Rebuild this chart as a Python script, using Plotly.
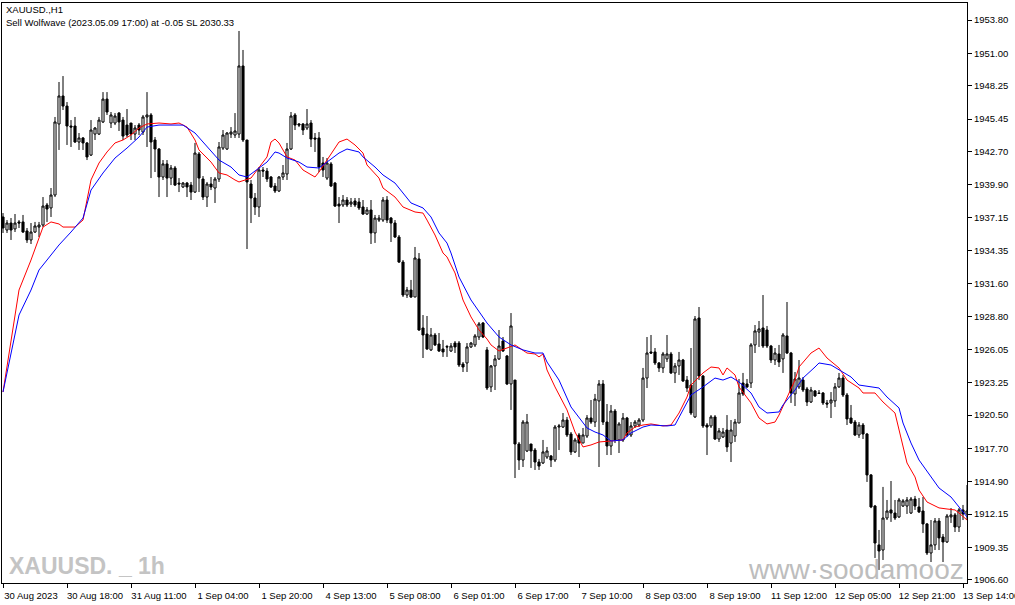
import plotly.graph_objects as go

# ---------------- data ----------------
bar_index = list(range(242))

open_ = [1937.20,1936.10,1936.69,1936.19,1936.78,1936.78,1936.02,1935.26,1935.93,1936.35,
1936.52,1938.21,1937.96,1939.05,1945.04,1947.40,1946.55,1944.87,1944.87,1943.52,
1943.86,1943.44,1942.42,1944.19,1944.19,1945.21,1947.14,1945.12,1945.12,1945.96,
1945.37,1944.95,1945.12,1944.19,1944.95,1944.36,1945.63,1945.80,1943.69,1942.93,
1940.57,1941.67,1940.48,1941.33,1940.06,1939.73,1940.06,1939.89,1939.30,1942.51,
1940.40,1938.88,1939.98,1939.64,1940.40,1943.01,1942.93,1944.19,1944.11,1944.19,
1949.93,1943.69,1939.98,1938.80,1938.04,1941.16,1941.07,1940.57,1939.81,1939.39,
1940.57,1940.82,1942.93,1945.80,1945.04,1945.04,1944.70,1945.12,1943.86,1943.86,
1941.75,1940.48,1941.67,1940.06,1938.29,1938.21,1938.63,1938.29,1938.55,1938.46,
1938.04,1937.45,1937.79,1935.85,1936.94,1936.94,1938.63,1937.11,1936.69,1935.51,
1933.40,1930.62,1931.04,1930.45,1933.66,1927.84,1927.33,1925.99,1927.25,1926.49,
1926.07,1926.28,1925.90,1926.57,1926.57,1924.80,1924.89,1926.24,1926.41,1927.08,
1928.26,1925.99,1922.87,1924.64,1925.23,1926.74,1925.48,1923.12,1923.45,1918.06,
1916.71,1917.47,1918.06,1917.55,1916.54,1916.46,1916.96,1917.05,1916.71,1919.49,
1919.49,1920.08,1918.90,1917.39,1918.82,1918.14,1918.73,1920.25,1919.91,1921.69,
1923.12,1919.91,1917.89,1920.84,1918.40,1918.40,1920.25,1918.82,1919.58,1919.66,
1920.08,1923.62,1925.82,1925.82,1924.89,1924.47,1925.23,1925.65,1924.05,1924.64,
1925.14,1923.45,1923.03,1920.34,1928.68,1923.79,1919.66,1919.58,1920.34,1918.48,
1918.65,1919.24,1918.14,1918.73,1919.83,1923.20,1923.12,1923.20,1926.41,1927.50,
1927.84,1927.67,1926.32,1925.14,1925.65,1925.23,1927.17,1925.73,1922.28,1922.87,
1923.45,1922.70,1921.60,1922.53,1922.36,1922.36,1921.52,1921.52,1921.69,1922.87,
1923.62,1922.19,1920.25,1919.91,1918.82,1919.66,1918.90,1915.45,1912.83,1909.55,
1909.12,1911.82,1912.50,1912.24,1911.91,1912.83,1912.83,1912.24,1913.42,1912.75,
1912.41,1911.32,1908.87,1909.55,1911.57,1910.22,1909.80,1911.91,1912.08,1911.06,
1912.50,1912.16]

high = [1937.53,1936.94,1937.11,1937.45,1936.94,1937.37,1936.27,1936.69,1936.78,1936.78,
1938.88,1938.38,1939.64,1945.63,1948.58,1949.08,1946.89,1945.37,1945.63,1944.28,
1943.94,1943.52,1945.37,1944.78,1945.63,1947.73,1947.73,1946.05,1945.96,1946.05,
1945.63,1946.30,1945.12,1944.95,1945.12,1945.80,1947.73,1945.96,1943.94,1943.01,
1942.00,1942.00,1941.58,1941.50,1940.48,1940.15,1940.15,1940.15,1943.44,1942.68,
1940.65,1940.15,1940.57,1940.57,1943.52,1944.53,1944.36,1944.78,1945.96,1952.88,
1951.28,1943.69,1940.32,1939.22,1941.41,1941.41,1941.33,1940.65,1940.06,1940.65,
1941.58,1943.44,1946.05,1945.96,1945.12,1945.12,1946.30,1945.37,1944.28,1944.36,
1942.26,1942.17,1941.83,1940.15,1938.88,1939.05,1938.88,1938.80,1938.80,1938.80,
1938.63,1938.04,1938.63,1937.37,1937.37,1938.88,1938.96,1937.20,1936.94,1935.68,
1933.57,1931.30,1931.89,1934.67,1934.16,1928.93,1928.85,1927.84,1927.42,1927.42,
1926.83,1926.41,1926.57,1926.74,1926.74,1924.97,1926.57,1926.66,1927.33,1928.34,
1928.34,1926.24,1924.72,1925.56,1927.67,1927.08,1925.56,1929.10,1923.45,1918.23,
1920.08,1920.59,1918.06,1917.72,1916.80,1918.40,1917.81,1917.13,1919.66,1919.75,
1920.67,1920.34,1919.07,1918.57,1918.99,1919.41,1920.50,1921.77,1922.28,1923.45,
1923.45,1921.43,1921.35,1921.01,1919.91,1920.67,1920.34,1919.91,1920.08,1920.25,
1924.47,1927.08,1927.25,1926.15,1924.97,1925.82,1927.25,1925.82,1924.89,1925.82,
1925.23,1923.79,1926.15,1928.85,1929.61,1923.88,1919.83,1920.50,1920.50,1919.41,
1919.41,1920.50,1920.08,1920.17,1923.54,1924.05,1923.54,1926.57,1928.09,1928.43,
1930.62,1928.01,1926.41,1926.15,1926.41,1927.42,1930.03,1925.82,1924.13,1925.14,
1923.71,1922.87,1922.87,1922.61,1922.61,1922.44,1921.77,1922.44,1923.20,1924.05,
1923.88,1922.36,1921.35,1920.08,1919.91,1919.83,1918.99,1915.53,1912.92,1910.81,
1914.44,1913.34,1914.94,1913.34,1913.51,1913.42,1913.59,1913.59,1913.68,1913.51,
1913.59,1911.40,1911.65,1911.82,1911.82,1910.47,1912.16,1912.66,1912.24,1912.66,
1912.92,1914.60]

low = [1935.85,1935.85,1935.26,1935.93,1936.27,1935.85,1935.01,1934.92,1935.85,1935.51,
1936.35,1936.78,1937.20,1938.88,1942.85,1946.22,1943.27,1943.10,1943.44,1942.85,
1942.85,1942.00,1942.34,1943.69,1944.11,1945.12,1945.80,1944.70,1944.95,1944.45,
1943.69,1943.94,1943.69,1943.69,1944.11,1944.11,1943.10,1940.48,1940.99,1938.88,
1940.32,1938.88,1939.89,1939.81,1939.30,1939.64,1938.88,1938.63,1939.22,1939.30,
1938.63,1938.04,1939.47,1938.38,1940.15,1942.85,1942.85,1943.86,1943.86,1943.86,
1943.52,1934.50,1936.69,1937.37,1937.20,1940.57,1940.15,1939.64,1939.22,1939.30,
1940.32,1940.32,1942.85,1944.53,1944.78,1944.11,1944.53,1943.10,1942.68,1940.99,
1940.57,1940.32,1939.73,1938.04,1936.69,1938.04,1938.04,1938.04,1938.04,1937.79,
1937.37,1937.37,1934.92,1935.01,1936.78,1936.78,1936.69,1935.09,1935.43,1933.32,
1930.45,1930.37,1930.37,1930.45,1927.60,1925.31,1925.99,1925.90,1926.32,1925.82,
1925.40,1925.40,1925.82,1925.73,1924.55,1924.13,1924.13,1926.15,1926.24,1926.83,
1926.99,1922.61,1922.44,1922.61,1925.14,1925.82,1923.03,1920.93,1915.19,1915.87,
1916.12,1917.38,1916.04,1915.87,1915.87,1916.37,1916.80,1916.12,1916.54,1917.55,
1919.41,1918.65,1917.13,1917.30,1916.96,1918.14,1918.57,1919.75,1919.49,1916.12,
1919.66,1917.13,1917.13,1918.14,1917.30,1918.23,1918.65,1918.65,1919.41,1919.49,
1919.91,1922.78,1925.65,1924.72,1924.13,1924.05,1924.97,1923.96,1923.20,1923.88,
1923.29,1922.44,1920.50,1920.25,1923.45,1919.41,1917.13,1919.41,1918.40,1918.23,
1918.57,1917.39,1916.54,1918.23,1919.83,1922.11,1922.78,1922.78,1925.73,1926.24,
1926.15,1926.15,1924.89,1924.72,1924.55,1924.05,1925.65,1921.52,1921.26,1922.70,
1922.44,1921.26,1921.52,1922.02,1922.28,1921.35,1921.10,1920.25,1921.18,1922.80,
1922.02,1919.66,1919.75,1918.73,1918.57,1918.48,1914.86,1912.65,1908.45,1907.44,
1908.28,1911.65,1911.49,1911.65,1911.82,1912.75,1912.16,1912.16,1912.50,1912.24,
1910.56,1908.70,1908.11,1909.12,1909.12,1908.11,1909.71,1911.40,1910.64,1910.64,
1911.65,1911.65]

close = [1936.27,1936.69,1936.10,1936.69,1936.69,1935.93,1935.26,1935.93,1936.44,1936.52,
1938.12,1937.87,1939.05,1945.21,1947.40,1946.55,1944.87,1944.78,1943.52,1943.86,
1943.44,1942.26,1944.53,1944.70,1945.37,1947.14,1946.05,1945.80,1945.71,1945.21,
1944.02,1944.11,1944.19,1944.70,1944.53,1945.63,1945.80,1943.52,1942.93,1940.57,
1941.67,1940.48,1941.33,1939.89,1939.98,1940.06,1939.73,1939.30,1942.59,1940.48,
1938.88,1939.98,1939.73,1940.40,1943.10,1944.11,1944.28,1944.36,1944.45,1949.93,
1943.69,1940.15,1938.80,1938.04,1941.16,1941.07,1940.40,1939.73,1939.39,1940.57,
1940.91,1942.93,1945.71,1944.95,1944.95,1944.53,1945.04,1943.77,1943.77,1941.41,
1941.16,1941.75,1939.81,1938.12,1938.12,1938.63,1938.21,1938.46,1938.21,1937.96,
1937.45,1937.79,1935.85,1937.11,1937.11,1938.63,1936.94,1936.69,1935.51,1933.40,
1930.62,1931.04,1930.45,1933.74,1927.67,1927.25,1926.07,1927.25,1926.41,1925.90,
1925.82,1926.24,1926.32,1926.24,1924.72,1924.55,1926.24,1926.57,1927.17,1928.18,
1927.08,1922.78,1924.64,1925.23,1926.32,1925.90,1923.12,1928.01,1918.06,1916.71,
1919.91,1919.91,1917.47,1916.54,1916.20,1917.39,1917.47,1916.71,1919.49,1919.58,
1920.08,1918.82,1917.39,1918.40,1918.14,1918.82,1920.25,1919.91,1921.85,1923.12,
1919.91,1917.89,1920.84,1918.40,1919.75,1920.25,1918.82,1919.58,1919.91,1920.08,
1923.62,1925.73,1925.73,1924.89,1924.47,1925.65,1925.65,1924.05,1924.64,1925.14,
1923.37,1922.78,1920.67,1928.60,1923.79,1919.58,1919.49,1920.34,1918.48,1919.16,
1919.07,1917.81,1919.24,1919.91,1922.36,1922.28,1922.87,1926.41,1927.59,1927.76,
1926.32,1926.32,1925.14,1925.73,1924.97,1927.25,1925.73,1922.36,1923.54,1923.62,
1922.61,1921.60,1922.61,1922.11,1922.32,1921.52,1921.43,1921.77,1922.87,1923.62,
1922.19,1920.17,1919.83,1918.82,1919.66,1918.90,1915.45,1912.75,1909.71,1909.04,
1911.82,1912.41,1912.24,1911.82,1913.34,1913.26,1913.34,1913.42,1912.83,1912.33,
1911.32,1908.87,1909.55,1911.57,1910.14,1909.80,1911.99,1912.08,1911.06,1912.50,
1912.16,1912.41]

# red moving average (bar index, price)
red_bar = [0,2,4,7,9,10,12,14,15,18,20,21,22,24,26,28,30,32,34,36,39,42,44,46,48,49,52,54,56,58,
59,62,64,66,67,68,69,71,73,75,78,79,81,83,84,86,88,90,91,94,95,98,100,103,105,106,108,110,111,113,
115,117,119,121,122,124,126,128,131,133,134,135,136,138,141,143,145,147,149,152,155,156,158,160,162,
165,167,169,171,172,175,177,179,180,181,183,184,187,189,191,193,194,196,198,199,202,204,206,209,211,
214,215,218,220,223,224,226,228,229,231,234,236,238,239,241]
red_val = [1922.44,1926.83,1931.04,1933.57,1935.55,1936.35,1936.78,1936.61,1936.35,1936.35,1936.94,
1938.63,1940.32,1941.75,1942.68,1943.44,1943.69,1944.11,1944.70,1945.04,1945.12,1945.04,1945.12,
1944.78,1943.69,1942.85,1941.83,1940.91,1940.74,1940.32,1940.15,1940.48,1941.41,1942.26,1943.52,
1943.77,1943.44,1942.26,1942.00,1941.16,1940.57,1940.99,1942.00,1943.01,1943.52,1943.77,1943.27,
1942.59,1941.58,1940.48,1939.64,1938.88,1938.04,1937.62,1937.53,1936.94,1935.68,1934.16,1933.83,
1932.48,1930.20,1928.77,1927.67,1926.91,1926.41,1925.90,1926.15,1926.41,1925.73,1925.65,1925.40,
1925.65,1924.30,1922.87,1920.93,1919.07,1917.81,1917.98,1918.23,1918.31,1918.40,1918.99,1919.49,
1919.66,1919.75,1919.58,1919.66,1920.67,1922.02,1923.03,1924.05,1924.55,1924.47,1923.88,1924.47,
1923.88,1922.87,1921.52,1920.25,1919.75,1919.91,1920.50,1922.02,1923.45,1924.55,1925.73,1926.15,
1925.31,1924.47,1923.45,1922.78,1922.36,1922.36,1921.60,1920.67,1919.24,1916.46,1915.28,1914.18,
1913.17,1912.67,1912.58,1912.50,1912.24,1911.65]

# blue moving average (bar index, price)
blue_bar = [0,2,4,7,9,11,14,17,20,22,25,28,31,34,36,39,42,45,48,51,54,57,59,61,64,66,68,69,71,74,
76,79,81,84,86,89,90,93,95,98,100,102,105,107,109,111,112,114,117,121,124,127,130,133,135,136,139,
142,146,148,150,152,155,157,160,162,166,168,170,172,175,178,180,182,184,187,189,191,194,195,198,200,
203,204,207,209,212,214,217,219,221,224,225,227,229,232,234,237,239,241]
blue_val = [1922.44,1925.56,1928.93,1931.04,1932.73,1933.57,1934.84,1935.93,1937.11,1939.47,1940.91,
1942.17,1943.01,1943.94,1944.78,1944.95,1944.95,1944.95,1944.28,1943.10,1942.00,1941.41,1940.74,
1940.57,1941.33,1941.83,1942.68,1942.59,1942.17,1941.83,1941.41,1941.33,1941.83,1942.59,1942.93,
1942.68,1942.26,1941.41,1940.74,1940.06,1939.22,1938.38,1937.96,1937.20,1935.85,1935.00,1934.16,
1932.14,1930.20,1928.26,1927.08,1926.41,1925.99,1925.73,1925.73,1924.97,1923.45,1921.18,1919.41,
1919.07,1918.82,1918.31,1918.40,1918.99,1919.49,1919.66,1919.58,1919.66,1920.93,1922.19,1922.87,
1923.62,1923.45,1923.71,1923.29,1922.36,1921.18,1920.67,1920.76,1921.35,1922.61,1923.62,1924.55,
1924.89,1924.72,1924.30,1923.71,1923.03,1922.87,1922.78,1922.02,1921.10,1919.83,1918.14,1916.71,
1915.28,1914.35,1913.59,1912.75,1911.91]

time_tick_bars = [0,16,32,48,64,80,96,112,128,144,160,176,192,208,224,240]
time_tick_text = ["30 Aug 2023","30 Aug 18:00","31 Aug 11:00","1 Sep 04:00","1 Sep 20:00",
                  "4 Sep 13:00","5 Sep 08:00","6 Sep 01:00","6 Sep 17:00","7 Sep 10:00",
                  "8 Sep 03:00","8 Sep 19:00","11 Sep 12:00","12 Sep 05:00","12 Sep 21:00",
                  "13 Sep 14:00"]

price_ticks = [1953.80,1951.00,1948.25,1945.45,1942.70,1939.90,1937.15,1934.35,1931.60,
               1928.80,1926.05,1923.25,1920.50,1917.70,1914.90,1912.15,1909.35,1906.60]
price_tick_text = ["1953.80","1951.00","1948.25","1945.45","1942.70","1939.90","1937.15",
                   "1934.35","1931.60","1928.80","1926.05","1923.25","1920.50","1917.70",
                   "1914.90","1912.15","1909.35","1906.60"]

title_line1 = "XAUUSD.,H1"
title_line2 = "Sell Wolfwave (2023.05.09 17:00) at -0.05 SL 2030.33"
watermark_left = "XAUUSD. _ 1h"
watermark_right = "www\u00b7soodamooz"

# ---------------- figure ----------------
W, H = 1015, 605
ML, MR, MT, MB = 2, 48, 3, 22
PW, PH = W - ML - MR, H - MT - MB

def fx(px):
    return (px - ML) / PW

def fy(py):
    return (H - MB - py) / PH

FONT = "Liberation Sans, Arial, sans-serif"

fig = go.Figure()
fig.add_trace(go.Candlestick(
    x=bar_index, open=open_, high=high, low=low, close=close,
    increasing=dict(line=dict(color="black", width=1), fillcolor="white"),
    decreasing=dict(line=dict(color="black", width=1), fillcolor="black"),
    whiskerwidth=0, hoverinfo="skip", showlegend=False,
))
fig.add_trace(go.Scatter(x=red_bar, y=red_val, mode="lines",
                         line=dict(color="#ff0000", width=1), hoverinfo="skip", showlegend=False))
fig.add_trace(go.Scatter(x=blue_bar, y=blue_val, mode="lines",
                         line=dict(color="#0000ff", width=1), hoverinfo="skip", showlegend=False))

fig.update_layout(
    width=W, height=H,
    margin=dict(l=ML, r=MR, t=MT, b=MB, autoexpand=False),
    paper_bgcolor="white", plot_bgcolor="white",
    showlegend=False, boxgap=0.25,
    font=dict(family=FONT, size=10, color="black"),
)
fig.update_xaxes(
    range=[-0.25, 241], showgrid=False, zeroline=False, automargin=False,
    showline=True, mirror=True, linecolor="black", linewidth=1,
    ticks="outside", ticklen=4, tickcolor="black", tickwidth=1,
    tickmode="array", tickvals=time_tick_bars, ticktext=time_tick_text,
    tickfont=dict(family=FONT, size=9.5, color="black"),
    ticklabelshift=28, ticklabeloverflow="allow", ticklabelstandoff=0,
    rangeslider=dict(visible=False), fixedrange=True,
)
fig.update_yaxes(
    side="right", range=[1906.34, 1955.24], showgrid=False, zeroline=False, automargin=False,
    showline=True, mirror=True, linecolor="black", linewidth=1,
    ticks="outside", ticklen=4, tickcolor="black", tickwidth=1,
    tickmode="array", tickvals=price_ticks, ticktext=price_tick_text,
    tickfont=dict(family=FONT, size=9.5, color="black"), fixedrange=True,
)

annotations = [
    dict(text=title_line1, x=fx(4), y=fy(9), xanchor="left", yanchor="middle",
         font=dict(family=FONT, size=9.5, color="black")),
    dict(text=title_line2, x=fx(4), y=fy(23), xanchor="left", yanchor="middle",
         font=dict(family=FONT, size=9.5, color="black")),
    dict(text="<b>" + watermark_left + "</b>", x=fx(7), y=fy(566), xanchor="left", yanchor="middle",
         font=dict(family=FONT, size=23, color="#c4c4c4")),
    dict(text=watermark_right, x=fx(966), y=fy(569), xanchor="right", yanchor="middle",
         font=dict(family=FONT, size=28, color="#bdbdbd")),
]
for a in annotations:
    a.update(xref="paper", yref="paper", showarrow=False)
fig.update_layout(annotations=annotations)

fig.write_html(
    "out.html",
    config={"displayModeBar": False},
    post_script="document.body.style.margin='0';document.body.style.padding='0';",
)
